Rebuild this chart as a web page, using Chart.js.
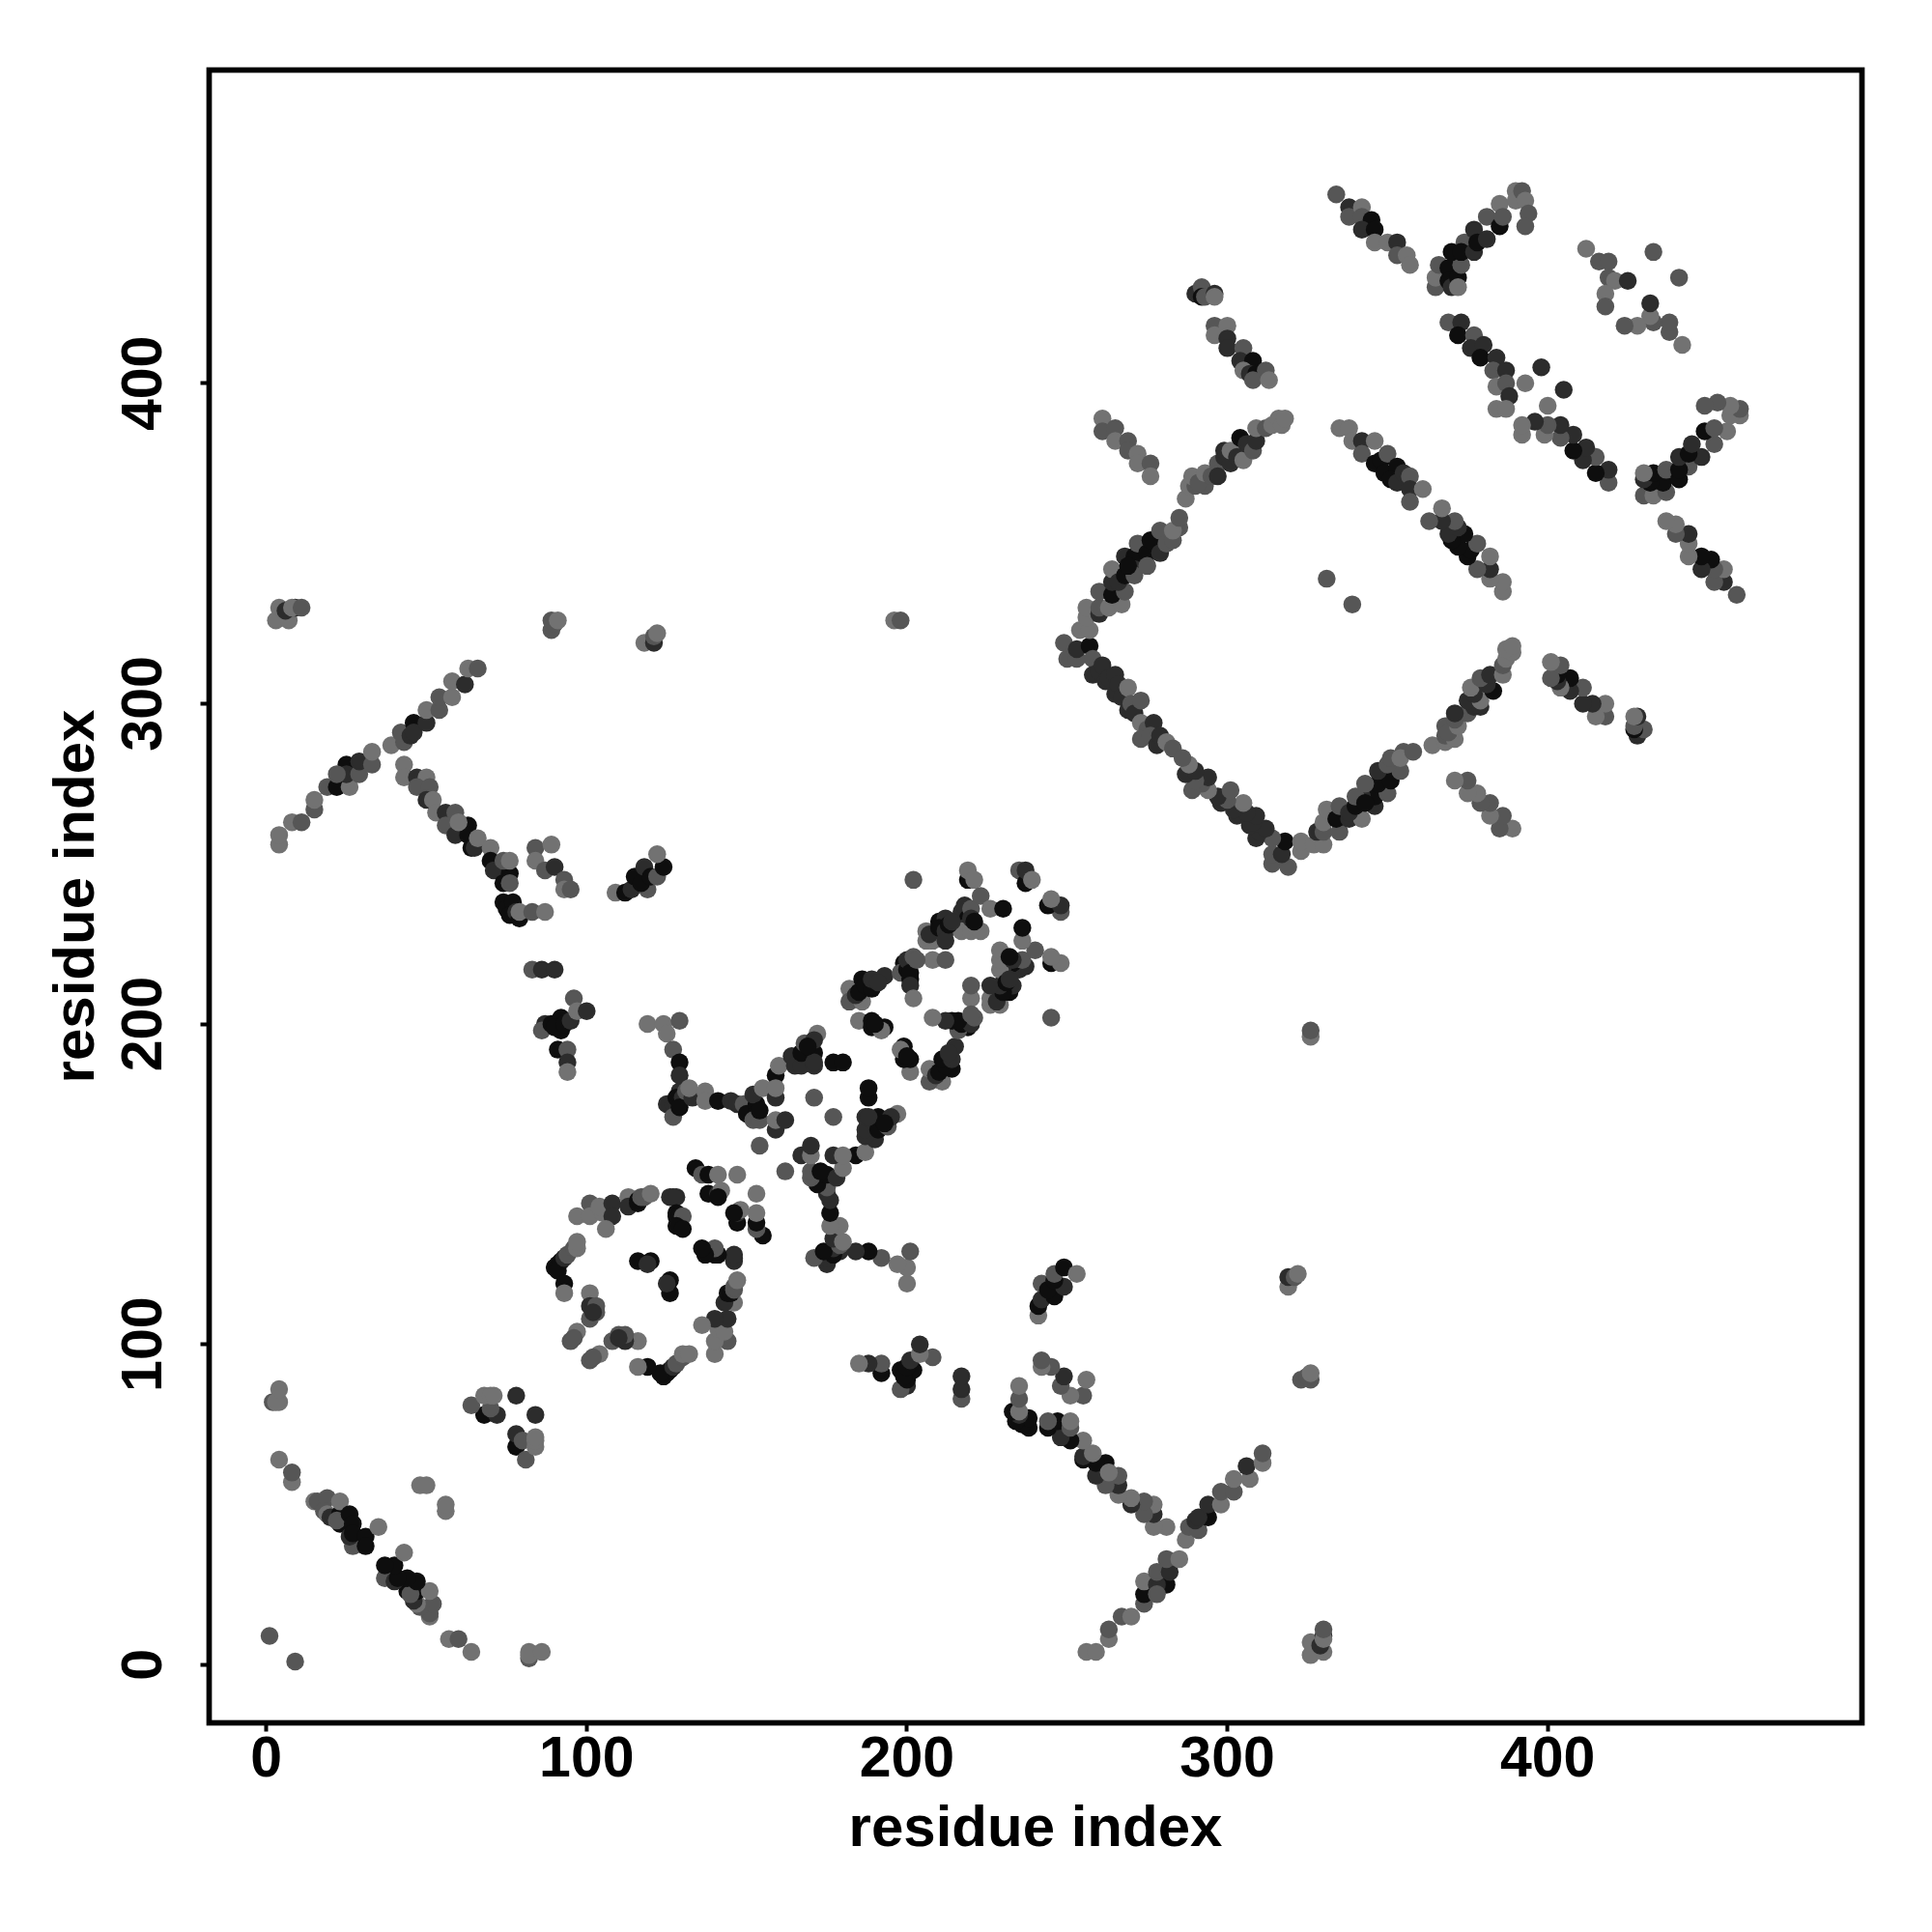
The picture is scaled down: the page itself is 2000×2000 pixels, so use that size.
<!DOCTYPE html>
<html>
<head>
<meta charset="utf-8">
<title>residue contact map</title>
<script src="https://cdn.jsdelivr.net/npm/chart.js@4/dist/chart.umd.js"></script>
<style>
  html, body { margin: 0; padding: 0; background: #fff; }
  canvas { display: block; }
</style>
</head>
<body>
<canvas id="chart-contacts" width="2000" height="2000"></canvas>
<script>
// contacts: [residue i, residue j, shade level 0-3]
// the map is symmetric, so each pair is drawn at (i,j) and (j,i)
const startStrands = [
  [1,9,1],[4,64,0],[8,57,0],[8,60,1],[15,51,0],[16,51,1],[19,52,1],[18,48,1],[19,47,0],[20,46,2],
  [23,47,3],[23,44,3],[22,45,1],[23,51,0],[27,37,1],[26,40,2],[26,47,3],[27,44,3],[27,41,3],
  [31,40,3],[31,37,3],[35,43,0],[2,82,1],[4,82,0],[3,82,0],[4,86,0],[48,56,0],[50,56,0],
];
const hairpin80 = [
  [68,78,3],[72,78,2],[64,81,1],[70,80,1],[68,84,0],[70,84,0],[71,84,0],[78,84,2],
];
const lateContactsA = [
  [3,326,0],[4,330,0],[7,326,0],[6,329,2],[9,330,2],[8,330,0],[11,330,1],
  [89,323,1],[89,326,1],[90,325,1],[91,326,0],
  [118,319,0],[121,319,2],[121,321,1],[122,322,0],
  [196,326,0],[198,326,1],[331,339,1],
];
const bandUp = [
  [4,256,0],[4,259,0],[8,263,0],[11,263,1],[15,267,1],[15,270,0],[19,274,1],[22,274,3],[26,274,0],
  [25,281,3],[25,278,2],[22,278,1],[29,278,1],[29,282,2],[33,281,1],[33,285,0],[39,287,0],
  [43,288,1],[42,291,1],[45,290,2],[46,294,3],[46,291,2],[50,294,2],[50,298,0],[54,298,1],[54,302,1],
  [58,302,0],[58,307,0],[62,306,2],[63,311,0],[66,311,1],
];
const bandDown = [
  [43,281,0],[43,277,0],[47,277,2],[50,277,0],[47,274,1],[51,274,1],[50,270,2],[52,270,0],[53,266,0],
  [56,266,2],[59,266,1],[56,262,1],[63,262,3],[59,259,2],[63,259,3],[60,263,0],[64,255,3],[65,255,2],
  [66,258,0],[70,255,0],[70,251,3],[71,248,2],[74,244,3],[76,247,3],[74,251,1],[76,244,1],[76,251,0],
  [74,238,3],[75,236,3],[77,238,3],[76,234,3],[78,235,2],[79,233,3],[79,235,0],[83,235,1],[87,235,0],
];
const shortBands = [
  [84,255,1],[89,256,0],[84,251,0],[87,248,1],[90,249,2],[93,245,1],[93,242,0],[95,242,1],
  [109,241,0],[112,241,3],[114,242,2],[119,242,1],[115,246,3],[117,244,3],[118,249,2],[120,246,3],
  [122,246,1],[124,249,3],[122,253,0],
  [83,217,1],[86,217,2],[90,217,2],
  [87,200,2],[86,198,1],[89,200,3],[92,202,3],[92,198,3],[90,199,3],[93,200,3],[95,201,2],[96,208,1],
  [97,204,0],[100,204,2],[91,192,3],[94,192,1],[94,188,2],[94,185,0],
  [119,200,0],[124,200,0],[125,197,0],[129,201,1],[127,192,1],[129,188,3],[129,184,2],
];
const ringContacts = [
  [90,124,3],[91,125,3],[92,126,3],[91,123,3],[93,127,2],[94,128,1],[96,130,1],[97,130,0],[97,132,0],
  [93,119,3],[93,116,0],[101,116,0],[101,112,2],[103,112,1],[103,110,1],[101,108,1],[102,110,2],
  [97,104,0],[95,101,1],[96,102,1],[116,126,3],[120,126,3],[119,125,2],
  [101,144,1],[97,140,0],[101,140,0],[105,141,0],[104,143,0],[108,144,2],[108,140,2],[106,136,0],[113,146,0],
  [113,143,2],[116,145,3],[116,144,3],[117,146,1],[118,146,1],[120,147,0],[126,146,2],[127,146,2],[128,146,2],
  [128,141,3],[128,140,3],[130,140,1],[128,137,3],[130,136,3],
];
const ringRight = [
  [134,155,3],[136,153,1],[138,153,3],[141,153,0],[147,153,0],[138,147,3],[141,147,2],[142,148,0],[141,146,3],
];
const middleCross = [
  [125,175,2],[127,175,2],[127,171,1],[129,179,2],[128,177,3],[130,177,2],[129,174,3],[131,179,1],[133,177,2],
  [132,180,0],[137,179,0],[137,176,0],[141,176,3],[145,176,2],[147,175,2],[149,175,1],
  [150,172,3],[153,175,3],[153,172,3],[152,178,2],[155,180,0],[152,170,1],[154,170,1],[154,173,3],
  [154,162,1],[159,167,2],[159,170,0],[162,170,2],[171,177,1],[159,177,2],
  [159,184,3],[159,180,0],[160,187,0],[164,190,2],[165,187,2],[167,187,2],[167,191,3],[168,194,1],
  [171,191,3],[171,187,2],[171,188,2],[172,197,0],[171,195,2],[177,188,3],[180,188,3],[169,193,3],
];
const middleUpper = [
  [182,211,0],[182,207,1],[186,207,0],[184,209,2],[185,210,3],[186,214,3],[187,212,3],[189,211,3],[189,214,2],
  [193,215,2],[191,213,2],
  [185,201,0],[189,201,3],[189,199,3],[193,199,3],[192,198,0],[190,200,3],
  [199,219,3],[198,216,1],[200,217,3],[201,214,3],[200,220,2],[201,216,3],[201,212,2],[202,221,1],[202,208,0],
  [208,220,0],[212,220,1],
  [206,229,0],[206,226,0],[208,226,0],[207,228,2],[210,232,3],[212,233,2],[210,230,3],[212,229,2],
  [217,235,2],[218,237,2],[219,233,3],[220,236,1],[218,230,2],[217,229,0],[220,229,0],[223,229,0],
  [202,245,1],[219,245,3],[219,248,0],[221,245,0],[223,240,1],[226,236,0],[230,236,3],
  [235,248,1],[237,244,3],[237,248,2],[239,245,0],
  [203,220,1],[212,226,2],[213,231,3],[214,232,2],[220,233,2],[221,232,3],
];
const shortUpperRight = [
  [261,389,0],[261,385,1],[265,386,1],[265,382,0],[269,382,1],[269,379,1],[272,378,0],[272,375,0],[276,375,1],[276,371,0],
  [290,428,2],[292,430,1],[292,427,3],[293,427,1],[296,428,2],[296,427,0],
  [296,418,1],[296,415,0],[300,418,0],[300,414,2],[300,411,2],[305,411,1],[304,407,2],[308,407,3],
  [305,404,0],[307,403,2],[309,403,3],[308,401,1],[312,404,1],[313,401,0],
];
const diamondUpperLeft = [
  [250,314,1],[249,319,1],[253,314,1],[253,317,2],[254,323,0],[257,318,3],[257,323,0],[256,327,0],[256,330,0],
  [260,328,2],[260,330,1],[260,335,1],[263,330,0],[267,331,0],[264,334,3],[268,335,1],
  [264,338,2],[264,342,0],[266,338,2],[268,340,3],[268,346,2],[271,346,3],[271,342,2],[271,340,1],[272,350,1],[269,343,3],
  [275,347,3],[276,351,3],[275,343,1],[279,347,2],[279,354,1],[281,350,1],[283,351,1],[285,355,1],[283,354,0],[285,358,1],
  [287,364,0],[288,368,0],[290,368,1],[293,368,1],[289,371,0],[291,369,1],[293,372,0],[295,371,1],[297,375,1],[297,371,2],
  [299,377,2],[301,375,2],[299,379,2],[301,379,0],[303,377,2],[305,376,0],[304,383,3],[306,381,2],[308,379,1],[309,382,2],[309,386,0],
  [312,386,1],[314,387,0],[316,389,0],[317,387,0],[318,389,0],
];
const diamondLowerLeft = [
  [258,314,1],[258,309,2],[260,310,2],[261,312,2],[262,307,2],[263,308,2],[265,309,2],[265,303,2],[266,306,2],
  [267,302,2],[269,305,0],[269,298,2],[270,300,1],[271,297,2],[273,301,1],[273,294,0],[275,292,1],[277,294,2],
  [273,289,1],[276,290,1],[278,287,2],[279,290,2],[281,288,0],[283,286,1],
];
const diamondUpperRight = [
  [335,386,0],[338,386,0],[339,382,0],[342,382,2],[342,378,1],[346,382,0],[346,375,3],[348,376,3],[350,378,1],
  [349,372,3],[353,374,3],[351,370,3],[353,369,2],[355,372,2],[357,371,1],[357,367,2],[361,367,0],[357,363,1],
];
const upperStrands = [
  [334,459,1],[338,455,2],[338,452,1],[342,455,0],[342,452,1],[345,451,3],[342,448,2],[346,448,3],[346,444,0],
  [350,444,0],[353,444,2],[353,440,1],[356,440,0],[357,437,0],
  [365,430,1],[365,433,0],[366,437,1],[369,436,3],[369,432,3],[370,430,2],[372,433,3],[372,430,0],[373,437,1],
  [370,441,3],[374,444,1],[373,441,3],[377,448,2],[377,441,2],[378,444,3],[381,452,1],[381,445,2],
  [385,456,0],[385,449,3],[386,452,1],[390,460,0],[390,457,0],[392,460,1],[393,457,0],[394,453,1],[393,449,1],
  [369,419,1],[373,419,2],[372,415,3],[377,415,1],[376,411,2],[380,412,2],[379,408,3],[384,408,2],
  [383,404,1],[387,404,2],[384,399,0],[387,400,1],[388,396,2],[384,392,0],[387,392,0],[393,400,0],[398,405,2],
  [412,442,0],[416,438,1],[419,438,1],[419,433,1],[421,432,0],[425,432,2],[418,428,0],[418,424,1],[433,441,1],
];
const contactGroups = [
  startStrands, hairpin80, lateContactsA, bandUp, bandDown, shortBands, ringContacts, ringRight,
  middleCross, middleUpper, shortUpperRight, diamondUpperLeft, diamondLowerLeft, diamondUpperRight, upperStrands,
];
const shadeColors = ['#727272', '#565656', '#2c2c2c', '#0e0e0e'];
const tickValues = [0, 100, 200, 300, 400];
const axisLabel = 'residue index';

const points = [];
const colors = [];
for (const group of contactGroups) {
  for (const [i, j, shade] of group) {
    points.push({ x: i, y: j }, { x: j, y: i });
    colors.push(shadeColors[shade], shadeColors[shade]);
  }
}

const frameBox = {
  id: 'frameBox',
  afterDraw(chart) {
    const { ctx, chartArea: a } = chart;
    ctx.save();
    ctx.strokeStyle = '#000';
    ctx.lineWidth = 5.7;
    ctx.strokeRect(a.left, a.top, a.right - a.left, a.bottom - a.top);
    ctx.restore();
  },
};

const fontFamily = '"Liberation Sans", Arimo, Arial, sans-serif';
const tickFont = { family: fontFamily, size: 59, weight: 'bold' };
const titleFont = { family: fontFamily, size: 60, weight: 'bold' };
const gridOpts = {
  drawOnChartArea: false,
  drawTicks: true,
  tickLength: 9,
  tickColor: '#000',
  tickWidth: 4,
};

new Chart(document.getElementById('chart-contacts'), {
  type: 'scatter',
  data: {
    datasets: [{
      data: points,
      pointBackgroundColor: colors,
      pointBorderWidth: 0,
      pointRadius: 9.25,
      pointHoverRadius: 9.25,
    }],
  },
  options: {
    responsive: false,
    animation: false,
    layout: { padding: { left: 0, right: 72.5, top: 72.5, bottom: 0 } },
    plugins: { legend: { display: false }, tooltip: { enabled: false } },
    scales: {
      x: {
        type: 'linear',
        min: -17.85,
        max: 498.1,
        afterBuildTicks: (scale) => { scale.ticks = tickValues.map(value => ({ value })); },
        afterFit: (scale) => { scale.height = 216.5; },
        grid: gridOpts,
        border: { display: false },
        ticks: { color: '#000', font: tickFont, padding: -5, maxRotation: 0, autoSkip: false },
        title: { display: true, text: axisLabel, color: '#000', font: titleFont, padding: { top: 0, bottom: 70 } },
      },
      y: {
        type: 'linear',
        min: -18.15,
        max: 497.8,
        afterBuildTicks: (scale) => { scale.ticks = tickValues.map(value => ({ value })); },
        afterFit: (scale) => { scale.width = 216.5; },
        grid: gridOpts,
        border: { display: false },
        ticks: { color: '#000', font: tickFont, padding: 7.5, minRotation: 90, maxRotation: 90, crossAlign: 'center', autoSkip: false },
        title: { display: true, text: axisLabel, color: '#000', font: titleFont, padding: { top: 44, bottom: 0 } },
      },
    },
  },
  plugins: [frameBox],
});
</script>
</body>
</html>
